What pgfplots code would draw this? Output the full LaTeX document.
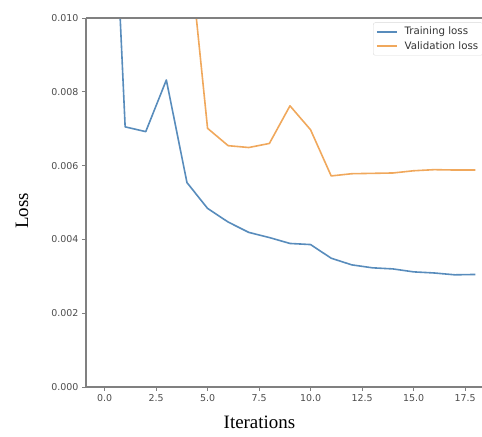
\documentclass[border=0pt]{standalone}
\usepackage{fontspec}
\setmainfont{DejaVu Sans}
\newfontfamily\timesf{Liberation Serif}
\usepackage{pgfplots}
\pgfplotsset{compat=1.18}
\definecolor{tblue}{RGB}{88,140,188}
\definecolor{torange}{RGB}{240,168,92}
\definecolor{spine}{RGB}{128,128,128}
\begin{document}
\begin{tikzpicture}
\begin{axis}[
  scale only axis, width=396bp, height=369bp,
  xmin=-0.9, xmax=18.32, ymin=0, ymax=0.010,
  axis x line*=bottom, axis y line*=left,
  axis line style={spine, line width=1.1bp},
  tick style={spine, line width=0.9bp},
  major tick length=4bp, tick align=outside,
  xtick={0,2.5,5,7.5,10,12.5,15,17.5},
  xticklabels={0.0,2.5,5.0,7.5,10.0,12.5,15.0,17.5},
  ytick={0,0.002,0.004,0.006,0.008,0.010},
  yticklabels={0.000,0.002,0.004,0.006,0.008,0.010},
  scaled y ticks=false,
  tick label style={font=\fontsize{9.5}{11}\selectfont, text=black!70},
  xlabel={Iterations},
  xlabel style={font=\timesf\fontsize{19}{22}\selectfont, at={(axis description cs:0.438,-0.095)}, anchor=center},
  ylabel={Loss},
  ylabel style={font=\timesf\fontsize{19}{22}\selectfont, at={(axis description cs:-0.1616,0.477)}, anchor=center},
  legend style={at={(axis description cs:1,1)}, anchor=north east, yshift=-4.5bp, xshift=1bp,
    draw=black!15, rounded corners=2pt, font=\fontsize{10.3}{12}\selectfont, text=black!80,
    inner sep=2.5bp, row sep=1bp, cells={anchor=west}},
  legend image code/.code={\draw[#1, line width=2bp] (0bp,0bp) -- (20bp,0bp); \path (25bp,0bp);},
  legend cell align=left,
  extra description/.code={\draw[spine, line width=1.1bp] (axis description cs:0,1) -- (axis description cs:1,1);},
  no markers,
]
\addplot[tblue, line width=1.6bp, line join=round] coordinates {
 (0,0.0193) (1,0.00705) (2,0.00692) (3,0.00832) (4,0.00554) (5,0.00484) (6,0.00447)
 (7,0.00419) (8,0.00405) (9,0.00389) (10,0.00386) (11,0.00349) (12,0.00331) (13,0.00323)
 (14,0.00320) (15,0.00312) (16,0.00309) (17,0.00304) (18,0.00305)};
\addlegendentry{Training loss}
\addplot[torange, line width=1.6bp, line join=round] coordinates {
 (0,0.035) (1,0.025) (2,0.018) (3,0.015) (4,0.0125) (5,0.00701) (6,0.00654)
 (7,0.00649) (8,0.00660) (9,0.00762) (10,0.00697) (11,0.00572) (12,0.00578) (13,0.00579)
 (14,0.00580) (15,0.00586) (16,0.00589) (17,0.00588) (18,0.00588)};
\addlegendentry{Validation loss}
\end{axis}
\pgfresetboundingbox
\path[use as bounding box] (-86bp,-50bp) rectangle (396bp,387bp);
\end{tikzpicture}
\end{document}
